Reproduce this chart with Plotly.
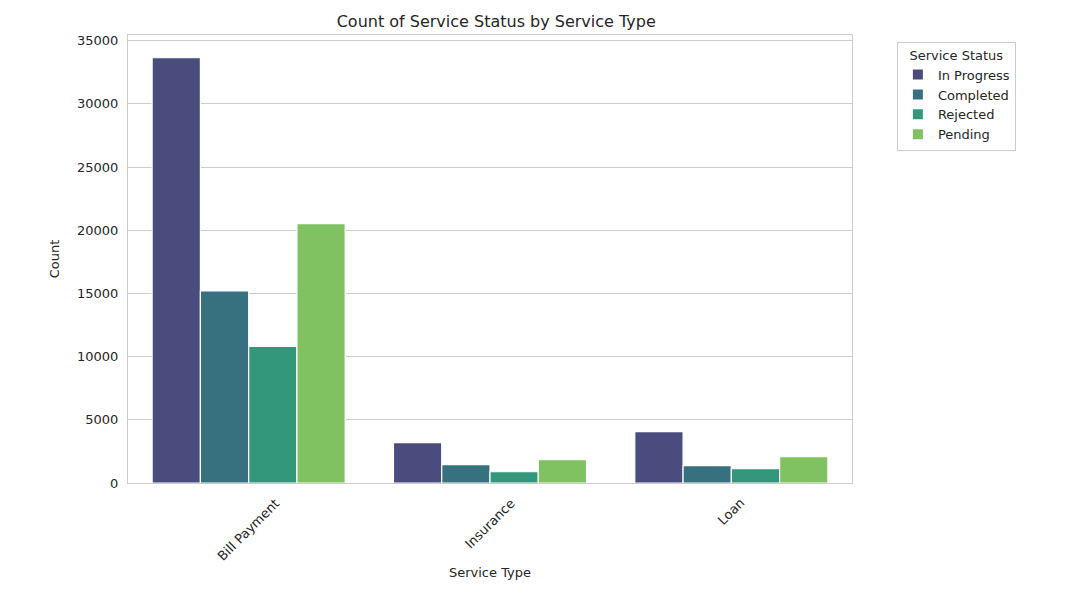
import plotly.graph_objects as go

service_types = ["Bill Payment", "Insurance", "Loan"]
statuses = ["In Progress", "Completed", "Rejected", "Pending"]
in_progress = [33650, 3190, 4060]
completed = [15200, 1450, 1370]
rejected = [10800, 890, 1130]
pending = [20520, 1840, 2080]
y_ticks = [0, 5000, 10000, 15000, 20000, 25000, 30000, 35000]

series = [in_progress, completed, rejected, pending]
colors = ["#4a4c7e", "#37717f", "#33977c", "#80c161"]

FONT = "DejaVu Sans"
TXT = "#262626"

fig = go.Figure()
for name, vals, col in zip(statuses, series, colors):
    fig.add_trace(go.Bar(
        x=service_types, y=vals, name=name,
        marker=dict(color=col, line=dict(color="white", width=1.2)),
    ))

annotations = []
for cat in service_types:
    annotations.append(dict(
        x=cat, xref="x", y=-0.022, yref="paper",
        text=cat, showarrow=False, textangle=-45,
        xanchor="center", yanchor="top",
        font=dict(family=FONT, size=13, color=TXT),
    ))

fig.update_layout(
    width=1073, height=595,
    margin=dict(l=120, r=229, t=27, b=120),
    paper_bgcolor="white", plot_bgcolor="white",
    barmode="group", bargap=0.2, bargroupgap=0,
    font=dict(family=FONT, size=13, color=TXT),
    title=dict(text="Count of Service Status by Service Type",
               x=0.455, xanchor="center", y=0.978, yanchor="middle",
               font=dict(family=FONT, size=16, color=TXT)),
    xaxis=dict(
        categoryorder="array", categoryarray=service_types,
        range=[-0.5, 2.5], showticklabels=False, ticks="",
        showgrid=False, showline=True, mirror=True,
        linecolor="#cccccc", linewidth=1,
        title=dict(text="Service Type", standoff=84,
                   font=dict(family=FONT, size=13, color=TXT)),
    ),
    yaxis=dict(
        range=[0, 35450], tickvals=y_ticks, tickformat="d",
        showgrid=True, gridcolor="#cccccc", gridwidth=1,
        showline=True, mirror=True, linecolor="#cccccc", linewidth=1,
        zeroline=False, ticks="", ticklabelstandoff=6,
        tickfont=dict(family=FONT, size=13, color=TXT),
        title=dict(text="Count", standoff=14,
                   font=dict(family=FONT, size=13, color=TXT)),
    ),
    legend=dict(
        x=1.062, xanchor="left", y=0.985, yanchor="top",
        bgcolor="white", bordercolor="#cccccc", borderwidth=1,
        font=dict(family=FONT, size=13, color=TXT),
        title=dict(text="Service Status", side="top center",
                   font=dict(family=FONT, size=13, color=TXT)),
        itemsizing="constant", tracegroupgap=2,
    ),
    annotations=annotations,
)

fig.write_html("out.html")
